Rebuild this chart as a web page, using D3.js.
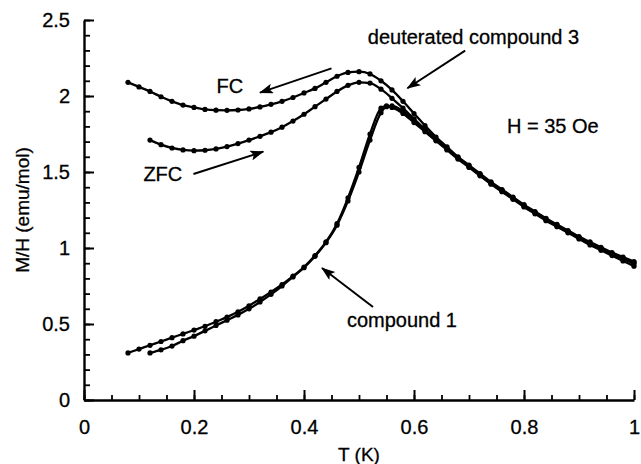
<!DOCTYPE html>
<html>
<head>
<meta charset="utf-8">
<script src="https://cdn.jsdelivr.net/npm/d3@7"></script>
<style>
  body { margin: 0; background: #fff; }
  svg { display: block; }
  text { font-family: "Liberation Sans", Arial, Helvetica, sans-serif; fill: #000; stroke: #000; stroke-width: 0.3px; }
</style>
</head>
<body>
<svg id="chart" width="641" height="464"></svg>
<script>
// Temperature grid (K) and M/H (emu/mol) for each measured run
const fcT = [0.08,0.10,0.12,0.14,0.16,0.18,0.20,0.22,0.24,0.26,0.28,0.30,0.32,0.34,0.36,0.38,0.40,0.42,0.44,0.46,0.48,0.50,0.52,0.54,0.56,0.58,0.60,0.62,0.64,0.66,0.68,0.70,0.72,0.74,0.76,0.78,0.80,0.82,0.84,0.86,0.88,0.90,0.92,0.94,0.96,0.98,1.00];
const fcM = [2.09,2.06,2.03,1.995,1.965,1.94,1.925,1.912,1.907,1.906,1.908,1.915,1.928,1.945,1.965,1.99,2.02,2.05,2.09,2.13,2.155,2.16,2.145,2.10,2.04,1.965,1.885,1.805,1.73,1.665,1.60,1.545,1.49,1.435,1.385,1.335,1.285,1.24,1.195,1.155,1.115,1.075,1.04,1.005,0.97,0.94,0.91];

const zfcT = [0.12,0.14,0.16,0.18,0.20,0.22,0.24,0.26,0.28,0.30,0.32,0.34,0.36,0.38,0.40,0.42,0.44,0.46,0.48,0.50,0.52,0.54,0.56,0.58,0.60,0.62,0.64,0.66,0.68,0.70,0.72,0.74,0.76,0.78,0.80,0.82,0.84,0.86,0.88,0.90,0.92,0.94,0.96,0.98,1.00];
const zfcM = [1.71,1.68,1.658,1.645,1.64,1.643,1.652,1.667,1.687,1.71,1.735,1.762,1.795,1.835,1.88,1.93,1.98,2.03,2.07,2.09,2.085,2.045,1.985,1.92,1.85,1.78,1.715,1.655,1.595,1.54,1.485,1.43,1.38,1.33,1.28,1.235,1.19,1.15,1.11,1.07,1.035,1.0,0.965,0.935,0.905];

const c1aT = [0.08,0.10,0.12,0.14,0.16,0.18,0.20,0.22,0.24,0.26,0.28,0.30,0.32,0.34,0.36,0.38,0.40,0.42,0.44,0.46,0.48,0.50,0.52,0.54,0.55,0.56,0.58,0.60,0.62,0.64,0.66,0.68,0.70,0.72,0.74,0.76,0.78,0.80,0.82,0.84,0.86,0.88,0.90,0.92,0.94,0.96,0.98,1.00];
const c1aM = [0.31,0.335,0.36,0.385,0.41,0.435,0.46,0.485,0.515,0.545,0.58,0.62,0.665,0.71,0.76,0.815,0.875,0.95,1.04,1.16,1.33,1.53,1.75,1.92,1.935,1.925,1.885,1.825,1.765,1.705,1.645,1.585,1.53,1.475,1.42,1.37,1.32,1.27,1.225,1.18,1.14,1.10,1.06,1.02,0.985,0.95,0.915,0.88];

const c1bT = [0.12,0.14,0.16,0.18,0.20,0.22,0.24,0.26,0.28,0.30,0.32,0.34,0.36,0.38,0.40,0.42,0.44,0.46,0.48,0.50,0.52,0.54,0.55,0.56,0.58,0.60,0.62,0.64,0.66,0.68,0.70,0.72,0.74,0.76,0.78,0.80,0.82,0.84,0.86,0.88,0.90,0.92,0.94,0.96,0.98,1.00];
const c1bM = [0.31,0.33,0.355,0.39,0.42,0.455,0.49,0.525,0.56,0.60,0.645,0.695,0.75,0.81,0.87,0.945,1.035,1.15,1.31,1.50,1.71,1.89,1.93,1.935,1.90,1.84,1.775,1.71,1.65,1.59,1.535,1.48,1.425,1.375,1.325,1.275,1.23,1.185,1.145,1.105,1.065,1.03,0.995,0.96,0.93,0.895];

// Axis ticks
const xMajor = [0, 0.2, 0.4, 0.6, 0.8, 1];
const xMinor = d3.range(0, 1.0001, 0.05);
const yMajor = [0, 0.5, 1, 1.5, 2, 2.5];
const yMinor = d3.range(0, 2.5001, 0.1);
const xTickLabels = ["0", "0.2", "0.4", "0.6", "0.8", "1"];
const yTickLabels = ["0", "0.5", "1", "1.5", "2", "2.5"];

// Annotations in data units: [T, M/H]
const notes = [
  { text: "FC", at: [0.241, 2.022] },
  { text: "ZFC", at: [0.108, 1.443] },
  { text: "deuterated compound 3", at: [0.516, 2.34] },
  { text: "H = 35 Oe", at: [0.769, 1.759] },
  { text: "compound 1", at: [0.478, 0.48] }
];
const arrows = [
  { from: [0.450, 2.182], to: [0.320, 2.022] },
  { from: [0.199, 1.487], to: [0.326, 1.634] },
  { from: [0.693, 2.298], to: [0.588, 2.051] },
  { from: [0.5255, 0.612], to: [0.4327, 0.868] }
];

const svg = d3.select("#chart");
const x = d3.scaleLinear().domain([0, 1]).range([84, 634]);
const y = d3.scaleLinear().domain([0, 2.5]).range([400, 20]);
const fontSize = 20;

// minor ticks (inward)
svg.append("g").attr("transform", "translate(0,400)")
  .call(d3.axisBottom(x).tickValues(xMinor).tickSize(-5).tickSizeOuter(0).tickFormat(""))
  .call(g => g.select(".domain").remove())
  .call(g => g.selectAll("line").attr("stroke-width", 1.8));
svg.append("g").attr("transform", "translate(84,0)")
  .call(d3.axisLeft(y).tickValues(yMinor).tickSize(-6).tickSizeOuter(0).tickFormat(""))
  .call(g => g.select(".domain").remove())
  .call(g => g.selectAll("line").attr("stroke-width", 1.8));

// major ticks + labels
const xAxis = svg.append("g").attr("transform", "translate(0,400)")
  .call(d3.axisBottom(x).tickValues(xMajor).tickSize(-10).tickSizeOuter(0).tickPadding(20)
    .tickFormat((d, i) => xTickLabels[i]));
const yAxis = svg.append("g").attr("transform", "translate(84,0)")
  .call(d3.axisLeft(y).tickValues(yMajor).tickSize(-10).tickSizeOuter(0).tickPadding(14)
    .tickFormat((d, i) => yTickLabels[i]));
[xAxis, yAxis].forEach(g => {
  g.selectAll(".domain").attr("stroke-width", 2.4);
  g.selectAll("line").attr("stroke-width", 2);
  g.selectAll("text").attr("font-size", fontSize).attr("font-family", null).attr("fill", null);
});

// axis titles
svg.append("text").attr("x", (x(0) + x(1)) / 2).attr("y", 461)
  .attr("text-anchor", "middle").attr("font-size", 19).text("T (K)");
svg.append("text").attr("transform", `translate(29,${(y(0) + y(2.5)) / 2}) rotate(-90)`)
  .attr("text-anchor", "middle").attr("font-size", 19).text("M/H (emu/mol)");

// data curves with point markers
const series = [
  { T: fcT, M: fcM }, { T: zfcT, M: zfcM }, { T: c1aT, M: c1aM }, { T: c1bT, M: c1bM }
];
const line = d3.line().x(d => x(d[0])).y(d => y(d[1])).curve(d3.curveMonotoneX);
series.forEach(s => {
  const pts = s.T.map((t, i) => [t, s.M[i]]);
  const g = svg.append("g");
  g.append("path").attr("d", line(pts)).attr("fill", "none")
    .attr("stroke", "#000").attr("stroke-width", 2.3);
  g.selectAll("circle").data(pts).join("circle")
    .attr("cx", d => x(d[0])).attr("cy", d => y(d[1])).attr("r", 2.6).attr("fill", "#000");
});

// arrowheads
svg.append("defs").append("marker").attr("id", "head")
  .attr("viewBox", "0 0 14 10").attr("refX", 13).attr("refY", 5)
  .attr("markerUnits", "userSpaceOnUse").attr("markerWidth", 15).attr("markerHeight", 10)
  .attr("orient", "auto")
  .append("path").attr("d", "M0,0 L14,5 L0,10 L3,5 Z").attr("fill", "#000");

arrows.forEach(a => {
  svg.append("line")
    .attr("x1", x(a.from[0])).attr("y1", y(a.from[1]))
    .attr("x2", x(a.to[0])).attr("y2", y(a.to[1]))
    .attr("stroke", "#000").attr("stroke-width", 2).attr("marker-end", "url(#head)");
});

notes.forEach(n => {
  svg.append("text").attr("x", x(n.at[0])).attr("y", y(n.at[1]))
    .attr("font-size", fontSize).text(n.text);
});
</script>
</body>
</html>
